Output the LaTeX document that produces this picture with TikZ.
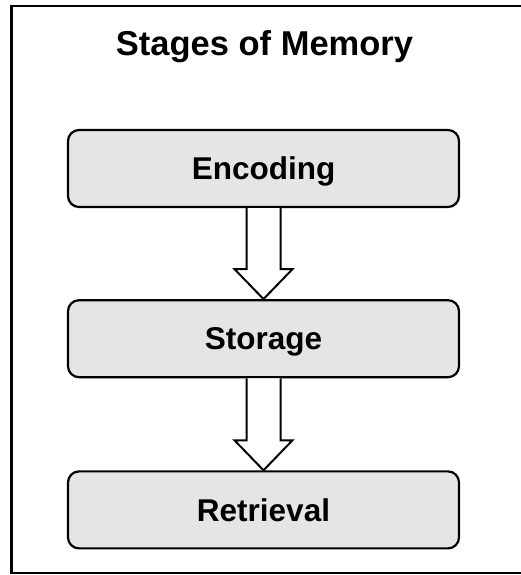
\documentclass[tikz,border=0pt]{standalone}
\usepackage{fontspec}
\setmainfont{Liberation Sans}
\usetikzlibrary{calc, positioning}
\definecolor{stagegray}{RGB}{229,229,229}
\tikzstyle{stage} = [draw, line width=2.2pt, rounded corners=11pt, fill=stagegray, minimum width=391pt, minimum height=77pt, text height=22.5pt, text depth=0pt, font=\fontsize{31.5}{38}\selectfont\bfseries]
\tikzstyle{hollow} = [draw, line width=2pt, fill=white, line join=miter]

\begin{document}
\begin{tikzpicture}[x=1pt, y=1pt]
        \useasboundingbox (0,0) rectangle (520,575);
        \draw [line width=2.5pt] (521,569) -- (11.5,569) -- (11.5,2) -- (521,2);
        \node (title) [anchor=base] at (264.5,519) {\fontsize{34.5}{41}\selectfont\bfseries Stages of Memory};
        \node (enc) [stage] at (263.5,406.5) {Encoding};
        \node (sto) [stage, below=91pt of enc] {Storage};
        \node (ret) [stage, below=92pt of sto] {Retrieval};
        \draw [hollow] ($(enc.south)+(-17,0)$) -- ($(sto.north)+(-17,30)$) -- ($(sto.north)+(-29,30)$) -- (sto.north)
            -- ($(sto.north)+(29,30)$) -- ($(sto.north)+(17,30)$) -- ($(enc.south)+(17,0)$);
        \draw [hollow] ($(sto.south)+(-17,0)$) -- ($(ret.north)+(-17,30)$) -- ($(ret.north)+(-29,30)$) -- (ret.north)
            -- ($(ret.north)+(29,30)$) -- ($(ret.north)+(17,30)$) -- ($(sto.south)+(17,0)$);
    \end{tikzpicture}
\end{document}
